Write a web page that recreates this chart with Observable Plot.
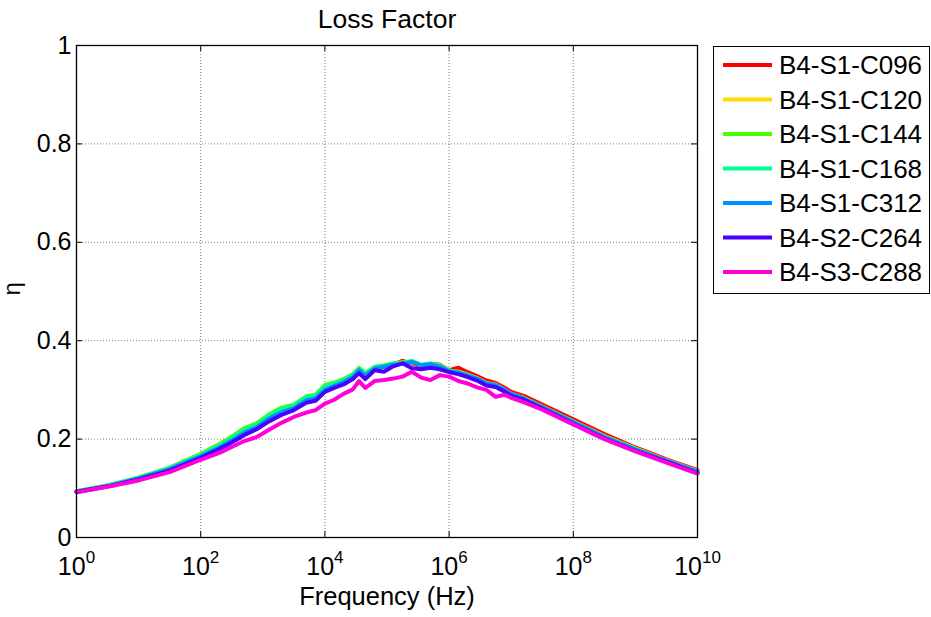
<!DOCTYPE html>
<html>
<head>
<meta charset="utf-8">
<script src="https://cdn.jsdelivr.net/npm/d3@7"></script>
<script src="https://cdn.jsdelivr.net/npm/@observablehq/plot@0.6"></script>
<style>
  body { margin: 0; background: #fff; font-family: "Liberation Sans", Arial, sans-serif; }
  #chart { position: relative; width: 931px; height: 617px; }
  #legend { position: absolute; left: 713px; top: 46px; }
</style>
</head>
<body>
<div id="chart"></div>
<script>
// Frequency grid, as powers of ten (Hz)
const logFreq = [0, 0.5, 1, 1.5, 2, 2.3, 2.5, 2.7, 2.9, 3.1, 3.3, 3.5, 3.7, 3.85, 4.0, 4.15, 4.3, 4.45, 4.55, 4.65,
                 4.8, 4.95, 5.1, 5.25, 5.4, 5.55, 5.7, 5.85, 6.0, 6.15, 6.3, 6.45, 6.6, 6.75, 6.9, 7.0, 7.2, 7.5,
                 8.0, 8.5, 9.0, 9.5, 10];

const seriesNames = ["B4-S1-C096", "B4-S1-C120", "B4-S1-C144", "B4-S1-C168", "B4-S1-C312", "B4-S2-C264", "B4-S3-C288"];
const seriesColors = ["#ff0000", "#ffdb00", "#49ff00", "#00ff92", "#0092ff", "#4900ff", "#ff00db"];

// Loss factor η for each specimen
const etaC096 = [0.093, 0.105, 0.120, 0.139, 0.165, 0.184, 0.198, 0.215, 0.226, 0.243, 0.256, 0.265, 0.281, 0.284, 0.302,
                 0.309, 0.317, 0.327, 0.338, 0.329, 0.343, 0.347, 0.352, 0.359, 0.354, 0.348, 0.353, 0.351, 0.340, 0.345,
                 0.336, 0.328, 0.319, 0.314, 0.304, 0.296, 0.288, 0.270, 0.240, 0.210, 0.183, 0.159, 0.137];
const etaC120 = [0.093, 0.105, 0.120, 0.139, 0.165, 0.184, 0.198, 0.214, 0.226, 0.244, 0.257, 0.266, 0.282, 0.283, 0.303,
                 0.310, 0.318, 0.328, 0.340, 0.330, 0.344, 0.348, 0.352, 0.355, 0.356, 0.350, 0.352, 0.349, 0.339, 0.337,
                 0.331, 0.324, 0.314, 0.311, 0.300, 0.292, 0.284, 0.266, 0.236, 0.206, 0.181, 0.157, 0.135];
const etaC144 = [0.094, 0.106, 0.122, 0.142, 0.170, 0.190, 0.205, 0.222, 0.232, 0.250, 0.264, 0.270, 0.287, 0.290, 0.310,
                 0.315, 0.322, 0.332, 0.345, 0.334, 0.347, 0.350, 0.354, 0.356, 0.358, 0.350, 0.354, 0.350, 0.340, 0.336,
                 0.330, 0.322, 0.312, 0.308, 0.298, 0.290, 0.281, 0.263, 0.233, 0.203, 0.178, 0.155, 0.132];
const etaC168 = [0.094, 0.106, 0.121, 0.141, 0.168, 0.187, 0.202, 0.219, 0.229, 0.247, 0.261, 0.268, 0.285, 0.288, 0.307,
                 0.313, 0.320, 0.330, 0.343, 0.333, 0.346, 0.349, 0.353, 0.355, 0.359, 0.351, 0.353, 0.349, 0.339, 0.336,
                 0.330, 0.323, 0.313, 0.309, 0.299, 0.291, 0.283, 0.265, 0.235, 0.205, 0.180, 0.156, 0.134];
const etaC312 = [0.092, 0.104, 0.120, 0.139, 0.165, 0.183, 0.197, 0.213, 0.224, 0.242, 0.255, 0.263, 0.279, 0.283, 0.300,
                 0.308, 0.316, 0.326, 0.340, 0.329, 0.343, 0.347, 0.351, 0.353, 0.357, 0.350, 0.352, 0.347, 0.338, 0.335,
                 0.329, 0.323, 0.313, 0.310, 0.300, 0.292, 0.283, 0.265, 0.235, 0.204, 0.179, 0.156, 0.134];
const etaC264 = [0.093, 0.104, 0.118, 0.136, 0.162, 0.180, 0.193, 0.208, 0.220, 0.236, 0.249, 0.259, 0.274, 0.278, 0.296,
                 0.304, 0.311, 0.322, 0.334, 0.322, 0.340, 0.337, 0.348, 0.354, 0.344, 0.342, 0.345, 0.342, 0.336, 0.332,
                 0.326, 0.319, 0.309, 0.306, 0.296, 0.288, 0.280, 0.262, 0.231, 0.201, 0.176, 0.154, 0.131];
const etaC288 = [0.092, 0.103, 0.116, 0.133, 0.158, 0.172, 0.184, 0.196, 0.204, 0.219, 0.233, 0.245, 0.254, 0.259, 0.272,
                 0.280, 0.292, 0.301, 0.318, 0.304, 0.318, 0.320, 0.323, 0.327, 0.337, 0.325, 0.320, 0.330, 0.327, 0.318,
                 0.313, 0.305, 0.300, 0.286, 0.290, 0.284, 0.275, 0.260, 0.230, 0.200, 0.175, 0.152, 0.130];

const seriesValues = [etaC096, etaC120, etaC144, etaC168, etaC312, etaC264, etaC288];

// Axis ticks
const xTickExp = [0, 2, 4, 6, 8, 10];
const yTicks = [0, 0.2, 0.4, 0.6, 0.8, 1];

const titleText = "Loss Factor";
const xLabel = "Frequency (Hz)";
const yLabel = "η";

// Long-format rows for the line mark
const rows = seriesNames.flatMap((name, i) =>
  seriesValues[i].map((eta, j) => ({name, freq: Math.pow(10, logFreq[j]), eta})));
const xTicks = xTickExp.map(e => Math.pow(10, e));

const W = 931, H = 617;
const mL = 76, mR = 234, mT = 45, mB = 80;
const fw = W - mL - mR, fh = H - mT - mB;
const font = "'Liberation Sans', Arial, sans-serif";
const gridStyle = {stroke: "#000", strokeOpacity: 0.5, strokeDasharray: "1,2", strokeWidth: 1};

const chart = Plot.plot({
  width: W,
  height: H,
  marginLeft: mL,
  marginRight: mR,
  marginTop: mT,
  marginBottom: mB,
  style: {fontFamily: font, fontSize: "25px", color: "#000", background: "#fff", overflow: "visible"},
  x: {type: "log", domain: [1, 1e10]},
  y: {domain: [0, 1]},
  color: {domain: seriesNames, range: seriesColors},
  marks: [
    Plot.gridX(xTicks, gridStyle),
    Plot.gridY(yTicks, gridStyle),
    Plot.line(rows, {x: "freq", y: "eta", z: "name", stroke: "name", strokeWidth: 4,
                     strokeLinejoin: "round", strokeLinecap: "round"}),
    Plot.frame({stroke: "#000", strokeWidth: 1.3}),
    // inward ticks on all four sides
    Plot.tickY(yTicks, {y: d => d, insetRight: fw - 6, stroke: "#000"}),
    Plot.tickY(yTicks, {y: d => d, insetLeft: fw - 6, stroke: "#000"}),
    Plot.tickX(xTicks, {x: d => d, insetTop: fh - 6, stroke: "#000"}),
    Plot.tickX(xTicks, {x: d => d, insetBottom: fh - 6, stroke: "#000"}),
    Plot.axisX(xTicks, {tickSize: 0, tickPadding: 20, label: null, fontSize: 25,
                        tickFormat: d => String(Math.round(Math.log10(d)))}),
    Plot.axisY(yTicks, {tickSize: 0, tickPadding: 5, label: null, fontSize: 25,
                        tickFormat: d => String(d)}),
    Plot.text([titleText], {frameAnchor: "top", lineAnchor: "bottom", dy: -18, fontSize: 26.5, fill: "#000"}),
    Plot.text([xLabel], {frameAnchor: "bottom", lineAnchor: "bottom", dy: 67, fontSize: 25.5, fill: "#000"}),
    Plot.text([yLabel], {frameAnchor: "left", dx: -64, dy: 4, rotate: -90, fontSize: 24, fill: "#000"})
  ]
});

// Write x tick labels as 10 with a raised exponent
d3.select(chart).selectAll('g[aria-label="x-axis tick label"] text').each(function () {
  const t = d3.select(this);
  const e = t.text();
  t.text(null);
  t.append("tspan").text("10");
  t.append("tspan").attr("dy", -12).attr("font-size", "17px").text(e);
});

const root = document.getElementById("chart");
root.appendChild(chart);

// Legend box to the right of the axes
const lgW = 216, lgH = 247, rowStep = 34.5, firstRow = 19;
const legend = d3.create("svg")
  .attr("id", "legend")
  .attr("width", lgW + 1)
  .attr("height", lgH + 1)
  .style("font-family", font);
legend.append("rect")
  .attr("x", 0.5).attr("y", 0.5).attr("width", lgW).attr("height", lgH)
  .attr("fill", "#fff").attr("stroke", "#000").attr("stroke-width", 1);
const entry = legend.selectAll("g.entry").data(seriesNames).join("g")
  .attr("class", "entry")
  .attr("transform", (d, i) => `translate(0,${firstRow + i * rowStep})`);
entry.append("line")
  .attr("x1", 10).attr("x2", 59).attr("y1", 0).attr("y2", 0)
  .attr("stroke", (d, i) => seriesColors[i]).attr("stroke-width", 4);
entry.append("text")
  .attr("x", 66).attr("y", 0).attr("dy", "0.35em")
  .attr("font-size", 26).attr("fill", "#000")
  .text(d => d);
root.appendChild(legend.node());
</script>
</body>
</html>
